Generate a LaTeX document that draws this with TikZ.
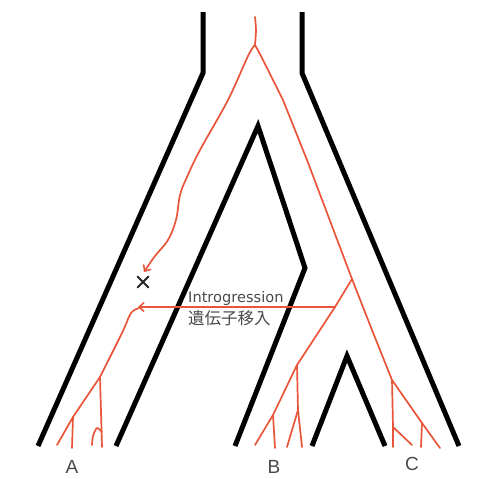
\documentclass[tikz,border=0pt]{standalone}
\usepackage{fontspec}
\setmainfont{DejaVu Sans}
\newfontfamily\labfont{Liberation Sans}
\newfontfamily\cjk{Noto Sans CJK JP}
\usetikzlibrary{arrows.meta}
\definecolor{gene}{HTML}{E8553A}
\definecolor{txt}{HTML}{4A4A4A}
\tikzset{
  species/.style={line width=5pt, black, line join=miter},
  genetree/.style={line width=1.7pt, gene, line cap=round, line join=round},
  tip/.style={-{Straight Barb[length=5pt,width=9pt,line width=1.5pt]}},
  leaf/.style={font=\labfont\fontsize{19}{19}\selectfont, text=txt, inner sep=0pt},
  cross/.style={line width=2pt, black!85, line cap=round},
}
\begin{document}
\begin{tikzpicture}[x=1pt,y=-1pt]
\useasboundingbox (0,0) rectangle (477,479);
\fill[white] (0,0) rectangle (477,479);
% species tree outline
\draw[species] (203,12) -- (203,73) -- (38,446);
\draw[species] (302,12) -- (302,73) -- (459,446);
\draw[species] (116,446) -- (258,126) -- (305,268) -- (235,446);
\draw[species] (312,446) -- (347,356) -- (385,446);
% gene tree
\coordinate (root) at (255,45);
\coordinate (bc) at (352,279);
\coordinate (bsrc) at (335,307);
\coordinate (atgt) at (138,307);
\coordinate (xm) at (143,282);
\draw[genetree] plot[smooth] coordinates {(255,17) (256,30) (root)};
\draw[genetree,tip] plot[smooth,tension=0.6] coordinates {(root) (248,56) (228,100) (200,150) (187,177) (180,195) (176,220) (168,240) (155,256) (144,272)};
\draw[genetree] plot[smooth] coordinates {(root) (262,58) (283,100)} -- (307,160) -- (bc);
\draw[genetree] (bc) -- (372,330) -- (392,380);
% to C
\draw[genetree] (392,380) -- (393,427) -- (393,447);
\draw[genetree] (393,427) -- (412,445);
\draw[genetree] (392,380) -- (422,423) -- (421,447);
\draw[genetree] (422,423) -- (440,448);
% to B
\draw[genetree] (bc) -- (bsrc) -- (297,365);
\draw[genetree] (297,365) -- (273,415) -- (255,445);
\draw[genetree] (273,415) -- (275,448);
\draw[genetree] (297,365) -- (298,410) -- (302,447);
\draw[genetree] (298,410) -- (287,447);
% introgression arrow
\draw[genetree,tip] (bsrc) -- (atgt);
% to A
\draw[genetree] plot[smooth] coordinates {(139,308) (131,313) (122,333) (100,377)};
\draw[genetree] (100,377) -- (73,417) -- (57,445);
\draw[genetree] (73,417) -- (72,448);
\draw[genetree] (100,377) -- (102,447);
\draw[genetree] plot[smooth] coordinates {(102,432) (97,428) (93,436) (92,445)};
% extinct marker
\coordinate (x) at (xm);
\draw[cross] ([shift={(-5.5,-5.5)}]x) -- ([shift={(5.5,5.5)}]x);
\draw[cross] ([shift={(-5.5,5.5)}]x) -- ([shift={(5.5,-5.5)}]x);
% texts
\node[anchor=base west, inner sep=0pt, text=txt, font=\fontsize{14.6}{15}\selectfont] (intro) at (188,302) {Introgression};
\node[anchor=west, inner sep=0pt, text=txt, font=\cjk\fontsize{16.5}{17}\selectfont] (jp) at (188,318) {遺伝子移入};
\node[leaf] (A) at (72,467) {A};
\node[leaf] (B) at (274,467) {B};
\node[leaf] (C) at (412,464) {C};
\end{tikzpicture}
\end{document}
